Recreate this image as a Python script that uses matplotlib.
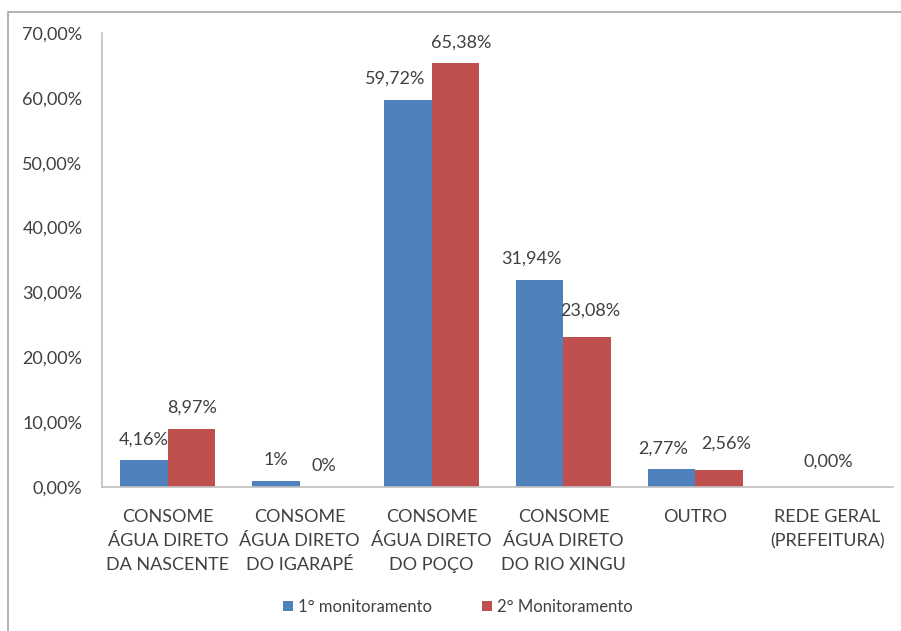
import matplotlib.pyplot as plt
import numpy as np
from matplotlib.patches import Rectangle

plt.rcParams['font.family'] = ['Lato', 'DejaVu Sans']

categorias = ['CONSOME\nÁGUA DIRETO\nDA NASCENTE', 'CONSOME\nÁGUA DIRETO\nDO IGARAPÉ',
              'CONSOME\nÁGUA DIRETO\nDO POÇO', 'CONSOME\nÁGUA DIRETO\nDO RIO XINGU',
              'OUTRO', 'REDE GERAL\n(PREFEITURA)']
mon1 = [4.16, 1.0, 59.72, 31.94, 2.77, 0.0]
mon2 = [8.97, 0.0, 65.38, 23.08, 2.56, 0.0]
rot1 = ['4,16%', '1%', '59,72%', '31,94%', '2,77%', '']
rot2 = ['8,97%', '0%', '65,38%', '23,08%', '2,56%', '']
rot_rede = '0,00%'
yticks = [0, 10, 20, 30, 40, 50, 60, 70]

azul = '#4F81BD'
verm = '#C0504D'
cinza_txt = '#404040'
fs = 13

fig = plt.figure(figsize=(9.01, 6.31), dpi=100)
# moldura do gráfico
fig.patches.append(Rectangle((8/901, -0.05), 1.0, (631-12)/631 + 0.05, transform=fig.transFigure,
                             fill=False, edgecolor='#A6A6A6', linewidth=1.2))
ax = fig.add_axes([102/901, 144/631, (893-102)/901, (598-144)/631])

x = np.arange(len(categorias))
w = 0.36
b1 = ax.bar(x - w/2, mon1, w, color=azul, label='1° monitoramento')
b2 = ax.bar(x + w/2, mon2, w, color=verm, label='2° Monitoramento')

# pequenos deslocamentos (pts) para os rótulos não se sobreporem
dx1 = [0, 0, -9, -6, -6, 0]
dy1 = [0, 0, 0, 0, 0, 0]
dx2 = [0, 0, 4, 2, 5, 0]
dy2 = [0, 0, 0, 4, 4, 0]
for i in range(len(categorias)):
    if rot1[i]:
        ax.annotate(rot1[i], (x[i] - w/2, mon1[i]), xytext=(dx1[i], 15 + dy1[i]),
                    textcoords='offset points', ha='center', va='center',
                    fontsize=fs, color=cinza_txt)
    if rot2[i]:
        ax.annotate(rot2[i], (x[i] + w/2, mon2[i]), xytext=(dx2[i], 15 + dy2[i]),
                    textcoords='offset points', ha='center', va='center',
                    fontsize=fs, color=cinza_txt)
ax.annotate(rot_rede, (x[5], 0), xytext=(1, 18), textcoords='offset points',
            ha='center', va='center', fontsize=fs, color=cinza_txt)

ax.set_xlim(-0.5, len(categorias) - 0.5)
ax.set_ylim(0, 70)
ax.set_yticks(yticks)
ax.set_yticklabels([f'{v:.2f}%'.replace('.', ',') for v in yticks], fontsize=fs, color=cinza_txt)
ax.set_xticks(x)
ax.set_xticklabels(categorias, fontsize=fs, color=cinza_txt, linespacing=1.6)
ax.tick_params(axis='both', length=0)
ax.tick_params(axis='y', pad=14)
ax.tick_params(axis='x', pad=16)
for s in ['top', 'right']:
    ax.spines[s].set_visible(False)
for s in ['left', 'bottom']:
    ax.spines[s].set_color('#BFBFBF')
    ax.spines[s].set_linewidth(1.2)

fig.legend(loc='center', bbox_to_anchor=(458/901, 24/631), ncol=2, frameon=False,
           fontsize=12, handlelength=0.6, handleheight=0.6, handletextpad=0.3,
           columnspacing=3.0, labelcolor=cinza_txt)

fig.savefig('out.png', dpi=100)
